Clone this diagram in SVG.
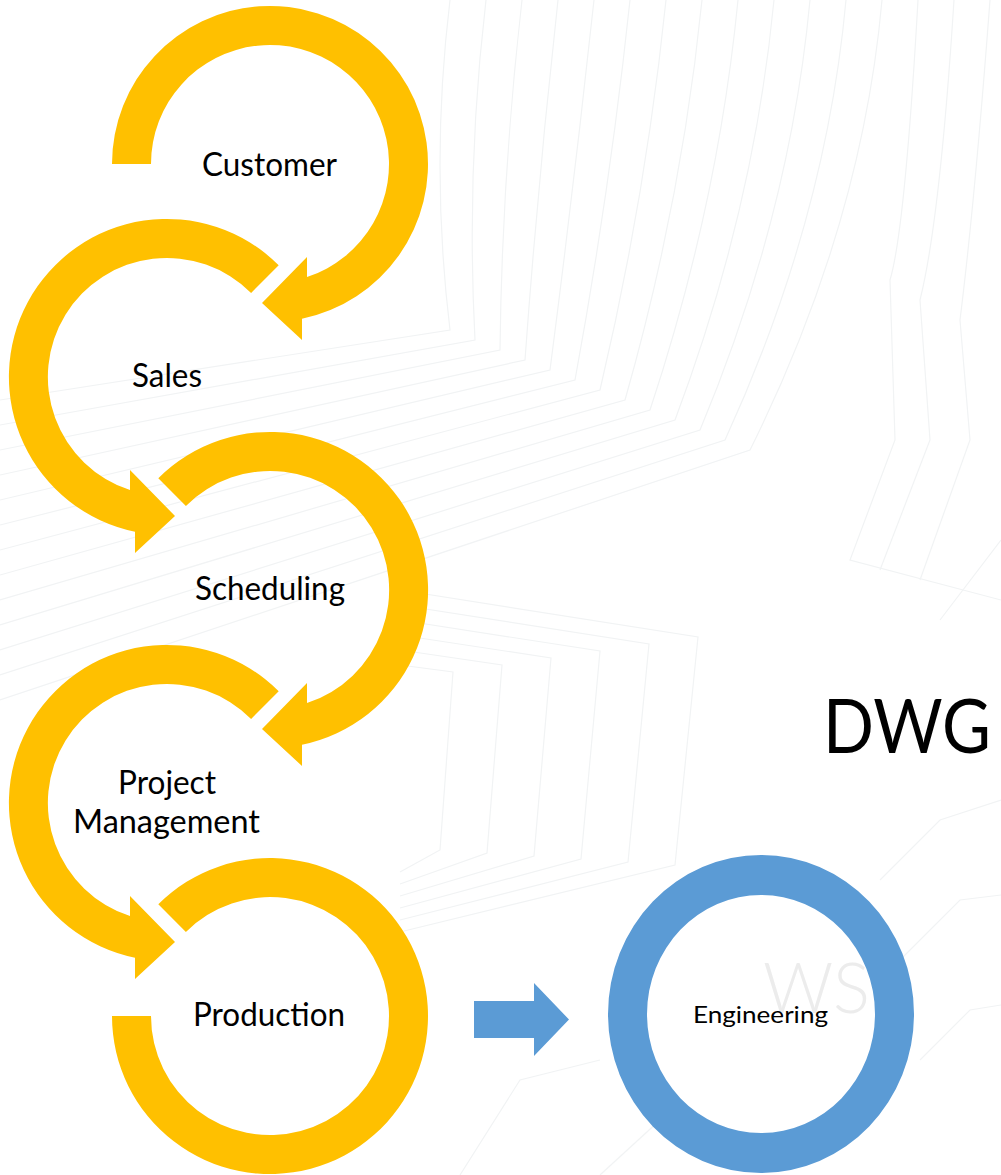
<svg xmlns="http://www.w3.org/2000/svg" width="1001" height="1175" viewBox="0 0 1001 1175">
<defs>
<style>
.bg{fill:none;stroke:#f1f3f4;stroke-width:1.2}
.ya{fill:#FFC000}
.blue{fill:#5B9BD5}
.lbl{font-family:Lato,"Noto Sans","Liberation Sans",sans-serif;fill:#000;font-size:32px}
.sm{font-size:23px}
.big{font-size:76px}
.wm{font-family:Lato,"Noto Sans",sans-serif;font-weight:300;font-size:70px;fill:#ececec}
</style>
</defs>
<rect width="1001" height="1175" fill="#ffffff"/>
<g id="background">
<path class="bg" d="M450,0 Q430,165 450,330 L0,400"/>
<path class="bg" d="M486,0 Q466,170 475,340 L0,425"/>
<path class="bg" d="M522,0 Q502,175 500,350 L0,450"/>
<path class="bg" d="M558,0 Q538,180 525,360 L0,475"/>
<path class="bg" d="M594,0 Q574,185 550,370 L0,500"/>
<path class="bg" d="M630,0 Q610,190 575,380 L0,525"/>
<path class="bg" d="M666,0 Q646,195 600,390 L0,550"/>
<path class="bg" d="M702,0 Q682,200 625,400 L0,575"/>
<path class="bg" d="M738,0 Q718,205 650,410 L0,600"/>
<path class="bg" d="M774,0 Q754,210 675,420 L0,625"/>
<path class="bg" d="M810,0 Q790,215 700,430 L0,650"/>
<path class="bg" d="M846,0 Q826,220 725,440 L0,675"/>
<path class="bg" d="M882,0 Q862,225 750,450 L0,700"/>
<path class="bg" d="M918,0 Q905,230 890,280 L895,440 L850,560 L1001,600"/>
<path class="bg" d="M954,0 Q940,220 920,300 L930,440 L880,570"/>
<path class="bg" d="M990,0 Q975,200 960,320 L970,440 L920,580"/>
<path class="bg" d="M400,665 L453,672 L440,850 L400,872"/>
<path class="bg" d="M400,650 L502,665 L487,853 L400,884"/>
<path class="bg" d="M400,635 L551,658 L534,856 L400,896"/>
<path class="bg" d="M400,620 L600,651 L581,859 L400,908"/>
<path class="bg" d="M400,605 L649,644 L628,862 L400,920"/>
<path class="bg" d="M400,590 L698,637 L675,865 L400,932"/>
<path class="bg" d="M940,620 L1001,540"/>
<path class="bg" d="M880,880 L940,820 L1001,800"/>
<path class="bg" d="M900,960 L960,900 L1001,895"/>
<path class="bg" d="M920,1060 L970,1010 L1001,1005"/>
<path class="bg" d="M600,1175 L660,1120"/>
<path class="bg" d="M460,1175 L520,1080 L600,1060"/>
</g>
<text class="wm" x="763" y="1013" textLength="107" lengthAdjust="spacingAndGlyphs">WS</text>
<g id="customer">
<path class="ya" d="M112,164 A158,158 0 1 1 302,318.7 L302,340 L262,303 L307,257 L307,277.1 A119,119 0 1 0 151,164 Z"/>
<text class="lbl" x="202" y="176" textLength="135" lengthAdjust="spacingAndGlyphs">Customer</text>
</g>
<g id="sales">
<path class="ya" d="M278.7,265.3 A158,158 0 1 0 135,531.7 L135,553 L175,516 L130,470 L130,490.1 A119,119 0 1 1 251.1,292.9 Z"/>
<text class="lbl" x="132" y="387" textLength="70" lengthAdjust="spacingAndGlyphs">Sales</text>
</g>
<g id="scheduling">
<path class="ya" d="M158.3,478.3 A158,158 0 1 1 302,744.7 L302,766 L262,729 L307,683 L307,703.1 A119,119 0 1 0 185.9,505.9 Z"/>
<text class="lbl" x="195" y="600" textLength="150" lengthAdjust="spacingAndGlyphs">Scheduling</text>
</g>
<g id="project-management">
<path class="ya" d="M278.7,691.3 A158,158 0 1 0 135,957.7 L135,979 L175,942 L130,896 L130,916.1 A119,119 0 1 1 251.1,718.9 Z"/>
<text class="lbl" x="118" y="794" textLength="98" lengthAdjust="spacingAndGlyphs">Project</text>
<text class="lbl" x="73" y="833" textLength="187" lengthAdjust="spacingAndGlyphs">Management</text>
</g>
<g id="production">
<path class="ya" d="M158.3,904.3 A158,158 0 1 1 112,1016 L151,1016 A119,119 0 1 0 185.9,931.9 Z"/>
<text class="lbl" x="193" y="1026" textLength="152" lengthAdjust="spacingAndGlyphs">Production</text>
</g>
<g id="connectors">
<path class="blue" d="M474,1001 L534,1001 L534,983 L569,1019.5 L534,1056 L534,1038 L474,1038 Z"/>
</g>
<g id="engineering">
<path class="blue" fill-rule="evenodd" d="M608,1014 A153,159 0 1 0 914,1014 A153,159 0 1 0 608,1014 Z M647,1014 A114,119 0 1 0 875,1014 A114,119 0 1 0 647,1014 Z"/>
<text class="lbl sm" x="693" y="1023" textLength="135" lengthAdjust="spacingAndGlyphs">Engineering</text>
</g>
<g id="dwg">
<text class="lbl big" x="823" y="753" textLength="168" lengthAdjust="spacingAndGlyphs">DWG</text>
</g>
</svg>
